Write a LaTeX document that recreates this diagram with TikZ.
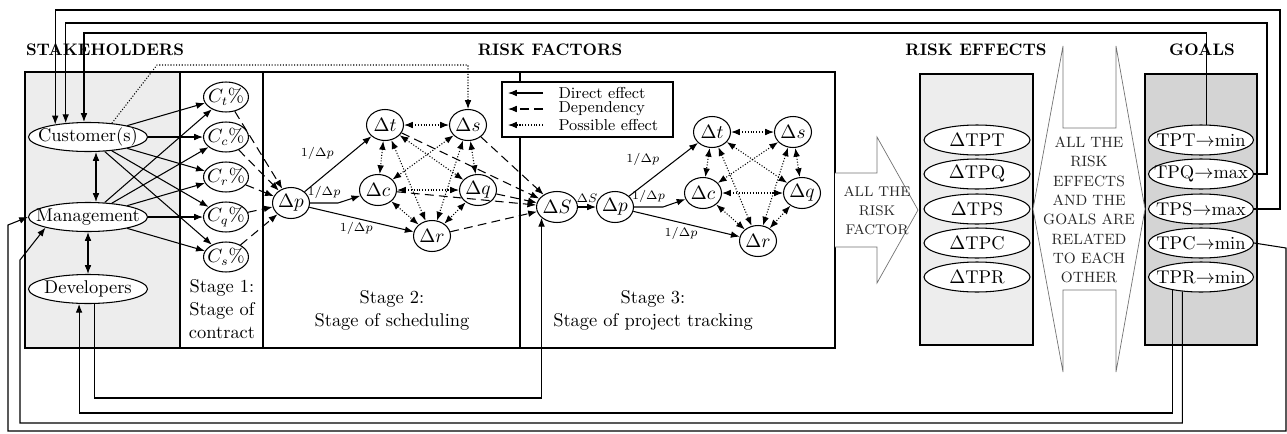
\documentclass[tikz,border=0pt]{standalone}
\usepackage{amsmath}
\usepackage{tikz}
\usetikzlibrary{arrows.meta,positioning,calc,shapes.geometric}
\newcommand{\ovtext}[1]{\makebox[0pt]{#1}}

\begin{document}
\begin{tikzpicture}[
x=0.02cm, y=-0.02cm, semithick,
>={Latex[length=5pt,width=3.8pt]},
font=\fontsize{10.5}{13}\selectfont,
stknode/.style={ellipse, draw, fill=white, inner sep=0pt, minimum width=2.38cm, minimum height=0.58cm},
cnode/.style={ellipse, draw, fill=white, inner sep=0pt, minimum width=0.9cm, minimum height=0.6cm},
dnode/.style={ellipse, draw, inner sep=0pt, minimum width=0.74cm, minimum height=0.62cm},
effnode/.style={ellipse, draw, fill=white, inner sep=0pt, minimum width=2.12cm, minimum height=0.6cm},
goalnode/.style={effnode, minimum width=2.1cm},
lblnode/.style={font=\scriptsize, inner sep=2pt},
legnode/.style={anchor=west, inner sep=0pt, font=\fontsize{9}{10}\selectfont},
titlenode/.style={font=\fontsize{9.5}{11}\selectfont\bfseries},
capsnode/.style={text=black!85, align=center, inner sep=0pt},
directarr/.style={->},
dependarr/.style={->, dash pattern=on 5pt off 3pt},
possiblearr/.style={<->, densely dotted},
shapeline/.style={draw=black!55, thin, fill=white},
]
\useasboundingbox (0,0) rectangle (1287,433);
%Frames
\draw[fill=black!7] (25,72) rectangle (180,348);
\draw (25,72) rectangle (835,348);
\draw (180,72) -- (180,348);
\draw (263,72) -- (263,348);
\draw (520,72) -- (520,348);
\draw[fill=white] (502,82) rectangle (673,137);
\draw[shapeline] (835,173) -- (877,173) -- (877,137) -- (918,210) -- (877,283) -- (877,247) -- (835,247);
\draw[fill=black!7] (920,74) rectangle (1033,345);
\draw[fill=black!17] (1145,74) rectangle (1257,345);
\draw[shapeline] (1033,209) -- (1063,46) -- (1063,128) -- (1116,128) -- (1116,46) -- (1145,209)
  -- (1116,372) -- (1116,290) -- (1063,290) -- (1063,372) -- cycle;

%Titles
\node[titlenode] (stk) at (105,50) {STAKEHOLDERS};
\node[titlenode] (rf) at (550,50) {RISK FACTORS};
\node[titlenode] (re) at (976,50) {RISK EFFECTS};
\node[titlenode] (gl) at (1202,50) {GOALS};
\node[align=center] (st1) at (222,309) {Stage 1:\\Stage of\\contract};
\node[align=center] (st2) at (392,310) {Stage 2:\\Stage of scheduling};
\node[align=center] (st3) at (653,310) {Stage 3:\\Stage of project tracking};
\node[capsnode, font=\fontsize{8}{10.8}\selectfont] (allrf) at (877,211) {ALL THE\\RISK\\FACTOR};
\node[capsnode, font=\fontsize{8.5}{11}\selectfont] (allre) at (1089,210)
  {ALL THE\\RISK\\EFFECTS\\AND THE\\GOALS ARE\\RELATED\\TO EACH\\OTHER};

%Legend
\node[legnode] (leg1) at (558,93) {Direct effect};
\node[legnode] (leg2) at (558,109) {Dependency};
\node[legnode] (leg3) at (558,125) {Possible effect};
\draw[directarr] ([xshift=-0.3cm]leg1.west) -- ++(-35,0);
\draw[dependarr] ([xshift=-0.3cm]leg2.west) -- ++(-35,0);
\draw[->, densely dotted] ([xshift=-0.3cm]leg3.west) -- ++(-35,0);

%Nodes
\node[stknode] (cust) at (88,137) {\ovtext{Customer(s)}};
\node[stknode] (mgmt) at (88,217) {\ovtext{Management}};
\node[stknode] (dev) at (88,289) {\ovtext{Developers}};

\node[cnode] (ct) at (226,97) {\ovtext{$C_t\%$}};
\node[cnode] (cc) at (226,137) {\ovtext{$C_c\%$}};
\node[cnode] (cr) at (226,177) {\ovtext{$C_r\%$}};
\node[cnode] (cq) at (226,217) {\ovtext{$C_q\%$}};
\node[cnode] (cs) at (226,257) {\ovtext{$C_s\%$}};

\node[dnode] (dp) at (291,203) {$\Delta p$};
\node[dnode] (dt) at (385,125) {$\Delta t$};
\node[dnode] (ds) at (468,125) {$\Delta s$};
\node[dnode] (dc) at (378,190) {$\Delta c$};
\node[dnode] (dq) at (478,190) {$\Delta q$};
\node[dnode] (dr) at (432,236) {$\Delta r$};

\node[dnode] (dS) at (557,207) {$\Delta S$};
\node[dnode] (dp2) at (615,207) {$\Delta p$};
\node[dnode] (dt2) at (712,132) {$\Delta t$};
\node[dnode] (ds2) at (793,132) {$\Delta s$};
\node[dnode] (dc2) at (703,193) {$\Delta c$};
\node[dnode] (dq2) at (802,193) {$\Delta q$};
\node[dnode] (dr2) at (758,241) {$\Delta r$};

\node[effnode] (etpt) at (977,140) {$\Delta$TPT};
\node[effnode] (etpq) at (977,174) {$\Delta$TPQ};
\node[effnode] (etps) at (977,209) {$\Delta$TPS};
\node[effnode] (etpc) at (977,243) {$\Delta$TPC};
\node[effnode] (etpr) at (977,277) {$\Delta$TPR};

\node[goalnode] (gtpt) at (1201,140) {\ovtext{TPT$\rightarrow$min}};
\node[goalnode] (gtpq) at (1201,174) {\ovtext{TPQ$\rightarrow$max}};
\node[goalnode] (gtps) at (1201,209) {\ovtext{TPS$\rightarrow$max}};
\node[goalnode] (gtpc) at (1201,243) {\ovtext{TPC$\rightarrow$min}};
\node[goalnode] (gtpr) at (1201,277) {\ovtext{TPR$\rightarrow$min}};

%Edges
\foreach \cn in {ct,cc,cr,cq,cs}{
  \draw[directarr] (cust) -- (\cn);
  \draw[directarr] (mgmt) -- (\cn);
  \draw[dependarr] (\cn) -- (dp);
}
\draw[<->] ([xshift=0.16cm]cust.south) -- ([xshift=0.16cm]mgmt.north);
\draw[<->] (mgmt) -- (dev);

\draw[directarr] (dp) -- node[lblnode, above left] {$1/\Delta p$} (dt);
\draw[directarr] (dp.east) -- node[lblnode, above] {$1/\Delta p$} ++(28,0) -- (dc);
\draw[directarr] (dp) -- node[lblnode, below, pos=0.45] {$1/\Delta p$} (dr);
\foreach \a/\b in {dt/ds,dt/dc,dt/dq,dt/dr,ds/dc,ds/dq,ds/dr,dc/dq,dc/dr,dq/dr}
  \draw[possiblearr] (\a) -- (\b);
\foreach \a in {dt,ds,dc,dq,dr}
  \draw[dependarr] (\a) -- (dS);

\draw[directarr] (dS) -- node[lblnode, above] {$\Delta S$} (dp2);
\draw[directarr] (dp2) -- node[lblnode, above left] {$1/\Delta p$} (dt2);
\draw[directarr] (dp2.east) -- node[lblnode, above] {$1/\Delta p$} ++(29,0) -- (dc2);
\draw[directarr] (dp2) -- node[lblnode, below, pos=0.45] {$1/\Delta p$} (dr2);
\foreach \a/\b in {dt2/ds2,dt2/dc2,dt2/dq2,dt2/dr2,ds2/dc2,ds2/dq2,ds2/dr2,dc2/dq2,dc2/dr2,dq2/dr2}
  \draw[possiblearr] (\a) -- (\b);

%Feedback
\coordinate (dotc) at (157,65);
\coordinate (t1) at (1280,10);
\coordinate (t2) at (1267,23);
\coordinate (t3) at (600,33);
\coordinate (b1) at (0,398);
\coordinate (b2) at (0,413);
\coordinate (b3) at (20,423);
\coordinate (b4) at (8,431);
\coordinate (m1) at (20,260);
\coordinate (m2) at (8,225);
\coordinate (r1) at (1286,248);
\draw[->, densely dotted] (cust.30) -- (dotc) -| (ds.north);
\draw[->] (gtps.east) -| (t1) -| (cust.159);
\draw[->] (gtpq.east) -| (t2) -| (cust.148);
\draw[->] (gtpt.72) |- (t3) -| (cust.105);
\draw[->] (gtpc.east) -- (r1) |- (b4) -- (m2) -- (mgmt.west);
\draw[->] (gtpr.205) |- (dev.239 |- b2) -- (dev.239);
\draw[->] (gtpr.218) |- (b3) -- (m1) -- (mgmt.194);
\draw[->] (dev.295) |- (dS.215 |- b1) -- (dS.215);
\end{tikzpicture}
\end{document}
